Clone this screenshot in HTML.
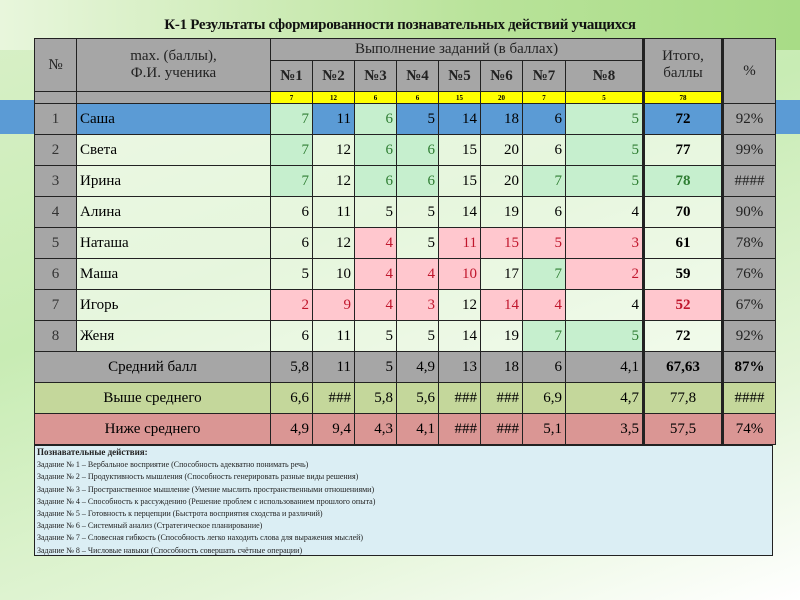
<!DOCTYPE html>
<html><head><meta charset="utf-8"><style>
body{margin:0;width:800px;height:600px;overflow:hidden;font-family:"Liberation Serif",serif;
background:linear-gradient(160deg,#d9f0c8 0%,#c8ecb4 40%,#e4f5d8 75%,#ffffff 100%);position:relative}
.top{position:absolute;left:0;top:0;width:800px;height:50px;background:linear-gradient(90deg,#e8f6dc,#b9e39a 60%,#a8dc86)}
.band{position:absolute;left:0;top:100px;width:800px;height:34px;background:#5b9bd5}
h1{position:absolute;left:0;top:17px;width:800px;text-align:center;font-size:15px;font-weight:bold;margin:0;color:#111;letter-spacing:-0.3px}
table{position:absolute;left:34px;top:38px;border-collapse:collapse;table-layout:fixed;font-size:15px}
td{border:1px solid #222;padding:0 3px;overflow:hidden;white-space:nowrap}
.h{background:#a6a6a6;text-align:center;color:#222}
.y td{background:#ffff00;font-size:7px;font-weight:bold;text-align:center;height:11px;padding:0}
.r td{height:30px;text-align:right;background:rgba(255,255,255,.55)}
.r td.n{text-align:center;background:#a6a6a6;color:#333}
.r td.nm{text-align:left;font-size:15px}
.r td.t{text-align:center;font-weight:bold}
.r td.p{text-align:center;background:#a6a6a6;color:#222}
.g{background:#c6efce!important;color:#2e7d32}
.k{background:#ffc7ce!important;color:#c0162c}
.blue td{background:#5b9bd5}
.s td{height:30px;text-align:right}
.s td.c{text-align:center}
.avg td{background:#a6a6a6}
.ab td{background:#c4d79b}
.be td{background:#da9694}
.bl{border-left:3px solid #222}
.notes{position:absolute;left:34px;top:445px;width:739px;height:111px;background:#dbeef4;border:1px solid #222;font-size:8px;line-height:12.2px;padding:0 2px;box-sizing:border-box;color:#222}
</style></head><body>
<div class="top"></div><div class="band"></div>
<h1>К-1 Результаты сформированности познавательных действий учащихся</h1>
<table>
<colgroup><col style="width:42px"><col style="width:194px"><col style="width:42px"><col style="width:42px"><col style="width:42px"><col style="width:42px"><col style="width:42px"><col style="width:42px"><col style="width:43px"><col style="width:78px"><col style="width:79px"><col style="width:53px"></colgroup>
<tr><td class="h" rowspan="2" style="height:52px">№</td><td class="h" rowspan="2">max. (баллы),<br>Ф.И. ученика</td><td class="h" colspan="8" style="height:21px">Выполнение заданий (в баллах)</td><td class="h bl" rowspan="2">Итого,<br>баллы</td><td class="h bl" rowspan="3">%</td></tr>
<tr style="height:30px"><td class="h"><b>№1</b></td><td class="h"><b>№2</b></td><td class="h"><b>№3</b></td><td class="h"><b>№4</b></td><td class="h"><b>№5</b></td><td class="h"><b>№6</b></td><td class="h"><b>№7</b></td><td class="h"><b>№8</b></td></tr>
<tr class="y"><td style="background:#a6a6a6"></td><td style="background:#a6a6a6"></td><td>7</td><td>12</td><td>6</td><td>6</td><td>15</td><td>20</td><td>7</td><td>5</td><td class="bl">78</td></tr>
<tr class="r blue"><td class="n">1</td><td class="nm" style="background:#5b9bd5">Саша</td><td class="g">7</td><td>11</td><td class="g">6</td><td>5</td><td>14</td><td>18</td><td>6</td><td class="g">5</td><td class="t bl">72</td><td class="p bl" style="background:#a6a6a6">92%</td></tr>
<tr class="r"><td class="n">2</td><td class="nm">Света</td><td class="g">7</td><td>12</td><td class="g">6</td><td class="g">6</td><td>15</td><td>20</td><td>6</td><td class="g">5</td><td class="t bl">77</td><td class="p bl">99%</td></tr>
<tr class="r"><td class="n">3</td><td class="nm">Ирина</td><td class="g">7</td><td>12</td><td class="g">6</td><td class="g">6</td><td>15</td><td>20</td><td class="g">7</td><td class="g">5</td><td class="t bl g">78</td><td class="p bl">####</td></tr>
<tr class="r"><td class="n">4</td><td class="nm">Алина</td><td>6</td><td>11</td><td>5</td><td>5</td><td>14</td><td>19</td><td>6</td><td>4</td><td class="t bl">70</td><td class="p bl">90%</td></tr>
<tr class="r"><td class="n">5</td><td class="nm">Наташа</td><td>6</td><td>12</td><td class="k">4</td><td>5</td><td class="k">11</td><td class="k">15</td><td class="k">5</td><td class="k">3</td><td class="t bl">61</td><td class="p bl">78%</td></tr>
<tr class="r"><td class="n">6</td><td class="nm">Маша</td><td>5</td><td>10</td><td class="k">4</td><td class="k">4</td><td class="k">10</td><td>17</td><td class="g">7</td><td class="k">2</td><td class="t bl">59</td><td class="p bl">76%</td></tr>
<tr class="r"><td class="n">7</td><td class="nm">Игорь</td><td class="k">2</td><td class="k">9</td><td class="k">4</td><td class="k">3</td><td>12</td><td class="k">14</td><td class="k">4</td><td>4</td><td class="t bl k">52</td><td class="p bl">67%</td></tr>
<tr class="r"><td class="n">8</td><td class="nm">Женя</td><td>6</td><td>11</td><td>5</td><td>5</td><td>14</td><td>19</td><td class="g">7</td><td class="g">5</td><td class="t bl">72</td><td class="p bl">92%</td></tr>
<tr class="s avg"><td class="c" colspan="2">Средний балл</td><td>5,8</td><td>11</td><td>5</td><td>4,9</td><td>13</td><td>18</td><td>6</td><td>4,1</td><td class="c bl"><b>67,63</b></td><td class="c bl"><b>87%</b></td></tr>
<tr class="s ab"><td class="c" colspan="2">Выше среднего</td><td>6,6</td><td>###</td><td>5,8</td><td>5,6</td><td>###</td><td>###</td><td>6,9</td><td>4,7</td><td class="c bl">77,8</td><td class="c bl">####</td></tr>
<tr class="s be"><td class="c" colspan="2">Ниже среднего</td><td>4,9</td><td>9,4</td><td>4,3</td><td>4,1</td><td>###</td><td>###</td><td>5,1</td><td>3,5</td><td class="c bl">57,5</td><td class="c bl">74%</td></tr>
</table>
<div class="notes"><b style="font-size:9px">Познавательные действия:</b><br>
Задание № 1 – Вербальное восприятие (Способность адекватно понимать речь)<br>
Задание № 2 – Продуктивность мышления (Способность генерировать разные виды решения)<br>
Задание № 3 – Пространственное мышление (Умение мыслить пространственными отношениями)<br>
Задание № 4 – Способность к рассуждению (Решение проблем с использованием прошлого опыта)<br>
Задание № 5 – Готовность к перцепции (Быстрота восприятия сходства и различий)<br>
Задание № 6 – Системный анализ (Стратегическое планирование)<br>
Задание № 7 – Словесная гибкость (Способность легко находить слова для выражения мыслей)<br>
Задание № 8 – Числовые навыки (Способность совершать счётные операции)</div>
</body></html>
